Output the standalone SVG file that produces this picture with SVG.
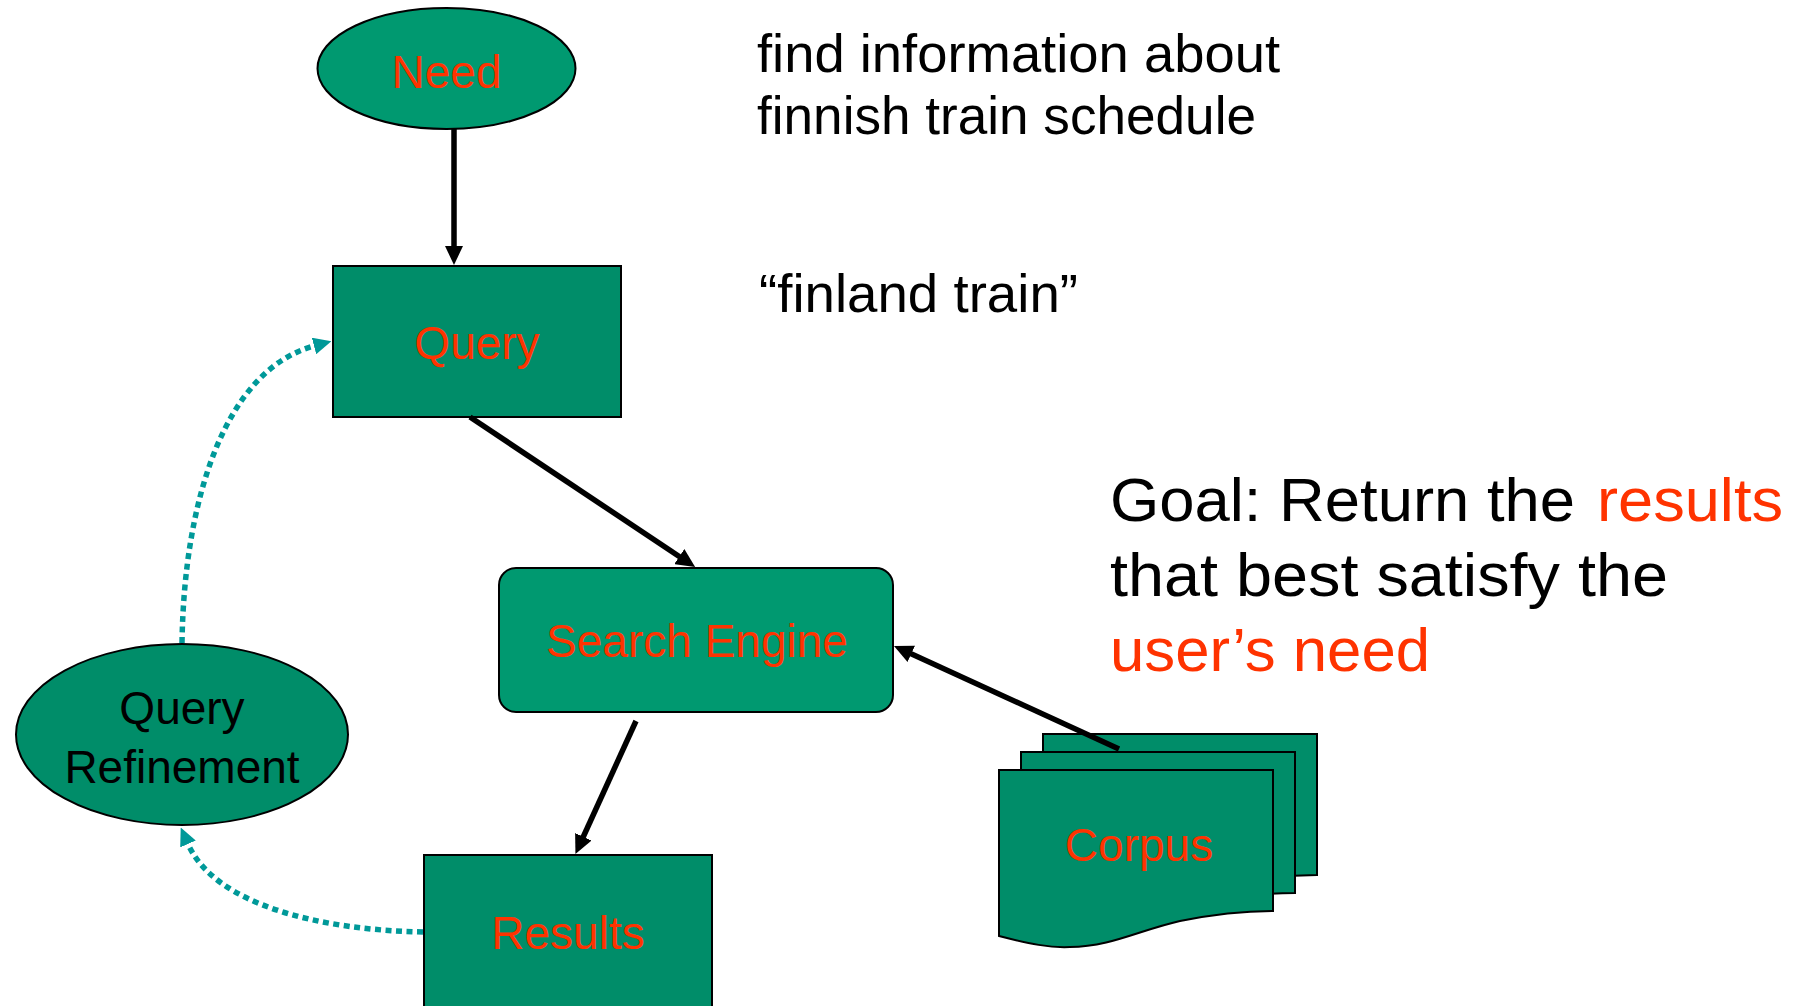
<svg xmlns="http://www.w3.org/2000/svg" xmlns:xlink="http://www.w3.org/1999/xlink" width="1798" height="1006" viewBox="0 0 1798 1006">
<style>
  .lt { fill: #009970; stroke: #000; stroke-width: 2; }
  .dk { fill: #008D69; stroke: #000; stroke-width: 2; }
  .lbl { font-family: "Liberation Sans", Arial, sans-serif; font-size: 46px; fill: #FF3300; text-anchor: middle; }
  .blk { fill: #000; }
  .note { font-family: "Liberation Sans", Arial, sans-serif; font-size: 53px; fill: #000; }
  .goal { font-family: "Liberation Sans", Arial, sans-serif; font-size: 62px; fill: #000; }
  .red { fill: #FF3300; }
  .conn { stroke: #000; stroke-width: 5.5; fill: none; marker-end: url(#ah); }
  .dot { stroke: #009999; stroke-width: 5.5; fill: none; stroke-dasharray: 6 4.5; marker-end: url(#tah); }
</style>
<defs>
  <marker id="ah" markerUnits="userSpaceOnUse" markerWidth="19" markerHeight="18" refX="8" refY="9" orient="auto">
    <path d="M0,0 L19,9 L0,18 z" fill="#000"/>
  </marker>
  <marker id="tah" markerUnits="userSpaceOnUse" markerWidth="18" markerHeight="17" refX="0" refY="8.5" orient="auto">
    <path d="M0,0 L18,8.5 L0,17 z" fill="#009999"/>
  </marker>
  <path id="page" d="M0,0 H274 V141 C251,141 221,143 181,151 C141,160 111,177 71,177 C51,178 31,174 0,166 Z"/>
</defs>

<g id="need">
  <ellipse class="lt" cx="446.5" cy="68.5" rx="129" ry="60.5"/>
  <text class="lbl" x="446.5" y="88">Need</text>
</g>

<g id="query">
  <rect class="dk" x="333" y="266" width="288" height="151"/>
  <text class="lbl" x="477" y="359">Query</text>
</g>

<g id="search-engine">
  <rect class="lt" x="499" y="568" width="394" height="144" rx="17" ry="17"/>
  <text class="lbl" x="697" y="657">Search Engine</text>
</g>

<g id="results">
  <rect class="dk" x="424" y="855" width="288" height="170"/>
  <text class="lbl" x="568" y="949">Results</text>
</g>

<g id="query-refinement">
  <ellipse class="dk" cx="182" cy="734.5" rx="166" ry="90.5"/>
  <text class="lbl blk" x="182" y="724">Query</text>
  <text class="lbl blk" x="182" y="783">Refinement</text>
</g>

<g id="corpus">
  <use xlink:href="#page" href="#page" class="dk" x="1043" y="734"/>
  <use xlink:href="#page" href="#page" class="dk" x="1021" y="752"/>
  <use xlink:href="#page" href="#page" class="dk" x="999" y="770"/>
  <text class="lbl" x="1139" y="861">Corpus</text>
</g>

<g id="notes">
  <text class="note" x="757" y="72" textLength="523" lengthAdjust="spacingAndGlyphs">find information about</text>
  <text class="note" x="757" y="134" textLength="499" lengthAdjust="spacingAndGlyphs">finnish train schedule</text>
  <text class="note" x="759" y="312" textLength="319" lengthAdjust="spacingAndGlyphs">“finland train”</text>
  <text class="goal" x="1110" y="521" textLength="465" lengthAdjust="spacingAndGlyphs">Goal: Return the</text>
  <text class="goal red" x="1597" y="521" textLength="186" lengthAdjust="spacingAndGlyphs">results</text>
  <text class="goal" x="1110" y="596" textLength="558" lengthAdjust="spacingAndGlyphs">that best satisfy the</text>
  <text class="goal red" x="1110" y="671" textLength="320" lengthAdjust="spacingAndGlyphs">user’s need</text>
</g>

<g id="connectors">
  <line class="conn" x1="454" y1="129" x2="454" y2="254"/>
  <line class="conn" x1="470" y1="417" x2="686" y2="561"/>
  <line class="conn" x1="636" y1="721" x2="580" y2="844"/>
  <line class="conn" x1="1119" y1="749" x2="904" y2="650.5"/>
  <path class="dot" d="M182,643 C184,500 225,370 314,346"/>
  <path class="dot" d="M423,932 C320,930 215,905 188,844"/>
</g>
</svg>
